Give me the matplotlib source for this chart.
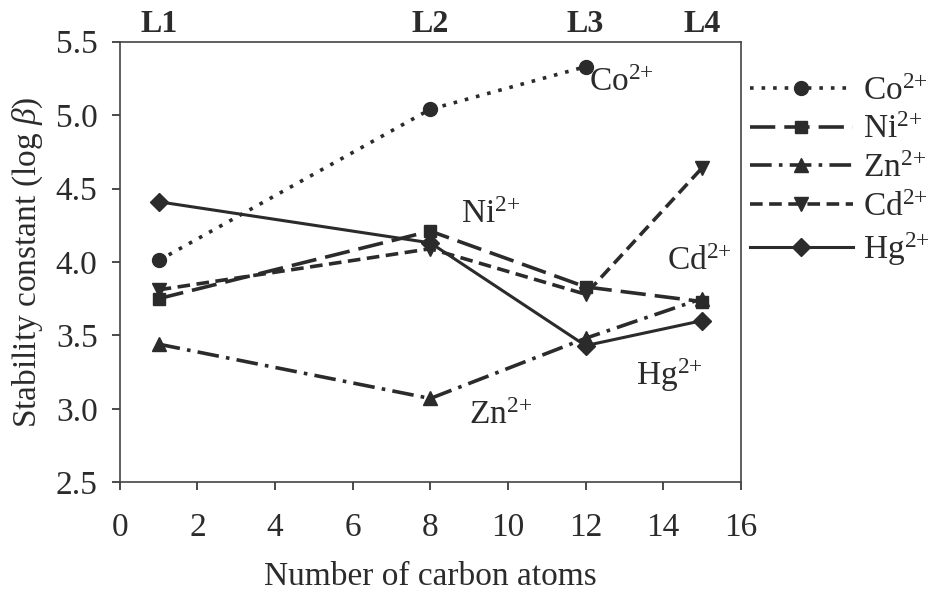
import numpy as np
import matplotlib.pyplot as plt

plt.rcParams['font.family'] = ['Liberation Serif', 'DejaVu Serif']
plt.rcParams['mathtext.fontset'] = 'custom'
plt.rcParams['mathtext.rm'] = 'Liberation Serif'
plt.rcParams['mathtext.it'] = 'Liberation Serif:italic'

carbons = [1, 8, 12, 15]
ligands = ['L1', 'L2', 'L3', 'L4']
co = [4.01, 5.04, 5.33]
ni = [3.75, 4.21, 3.83, 3.73]
zn = [3.44, 3.07, 3.48, 3.75]
cd = [3.81, 4.09, 3.78, 4.64]
hg = [4.41, 4.13, 3.43, 3.60]

ink = '#2b2b2b'
fs = 24
fig = plt.figure(figsize=(9.51, 5.96), dpi=100)
ax = fig.add_axes([0.126, 0.191, 0.653, 0.739])

ax.plot(carbons[:3], co, color=ink, lw=2.6, ls=(0, (1, 2.2)), marker='o', ms=10, label=r'Co$^{2{+}}$')
ax.plot(carbons, ni, color=ink, lw=2.6, ls=(0, (7, 2.5)), marker='s', ms=9, label=r'Ni$^{2{+}}$')
ax.plot(carbons, zn, color=ink, lw=2.6, ls=(0, (6, 2, 1, 2)), marker='^', ms=10, label=r'Zn$^{2{+}}$')
ax.plot(carbons, cd, color=ink, lw=2.6, ls=(0, (3.5, 1.8)), marker='v', ms=10, label=r'Cd$^{2{+}}$')
ax.plot(carbons, hg, color=ink, lw=2.2, ls='-', marker='D', ms=9, label=r'Hg$^{2{+}}$')

ax.set_xlim(0, 16)
ax.set_ylim(2.5, 5.5)
ax.set_xticks(np.arange(0, 17, 2))
ax.set_yticks(np.arange(2.5, 5.51, 0.5))
ax.yaxis.set_major_formatter(plt.FormatStrFormatter('%.1f'))
ax.tick_params(labelsize=fs, colors=ink, direction='out', length=6, width=1.2)
ax.tick_params(axis='x', pad=16)
ax.tick_params(axis='y', pad=10)
for s in ax.spines.values():
    s.set_color('#444444')
    s.set_linewidth(1.2)

ax.set_xlabel('Number of carbon atoms', fontsize=fs, color=ink, labelpad=13)
ax.set_ylabel(r'Stability constant (log $\mathit{\beta}$)', fontsize=fs, color=ink, labelpad=8)

for xc, name in zip(carbons, ligands):
    ax.text(xc, 5.52, name, ha='center', va='bottom', fontsize=fs - 1, fontweight='bold', color=ink)

ax.text(12.1, 5.22, r'Co$^{2{+}}$', fontsize=fs, color=ink, va='center')
ax.text(8.8, 4.32, r'Ni$^{2{+}}$', fontsize=fs, color=ink, va='center')
ax.text(14.1, 4.0, r'Cd$^{2{+}}$', fontsize=fs, color=ink, va='center')
ax.text(13.3, 3.23, r'Hg$^{2{+}}$', fontsize=fs, color=ink, va='center')
ax.text(9.0, 2.95, r'Zn$^{2{+}}$', fontsize=fs, color=ink, va='center')

leg = ax.legend(loc='upper left', bbox_to_anchor=(0.966, 0.99), frameon=False, fontsize=fs,
                handlelength=3.1, numpoints=1, labelspacing=0.24, handletextpad=0.3)
for t in leg.get_texts():
    t.set_color(ink)

fig.savefig('out.png', dpi=100)
